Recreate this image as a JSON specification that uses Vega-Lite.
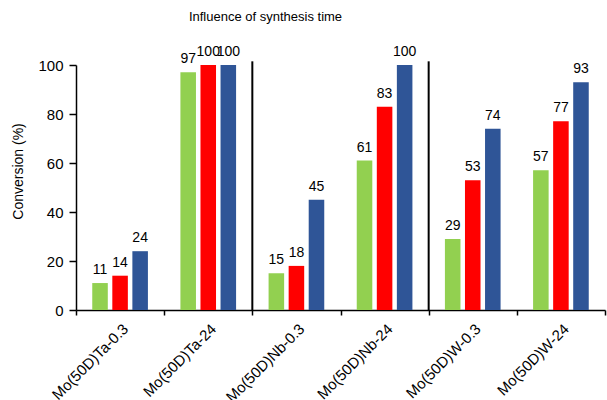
{
  "$schema": "https://vega.github.io/schema/vega-lite/v6.json",
  "width": 529,
  "height": 245,
  "autosize": {"type": "none"},
  "padding": {"left": 76, "top": 65, "right": 2, "bottom": 90},
  "title": {
    "text": "Influence of synthesis time",
    "fontSize": 13,
    "font": "Liberation Sans",
    "fontWeight": "normal",
    "frame": "group",
    "anchor": "middle",
    "dx": -75,
    "offset": 21,
    "color": "black"
  },
  "config": {
    "view": {"stroke": null},
    "font": "Liberation Sans",
    "axis": {
      "domainColor": "black",
      "domainWidth": 1.5,
      "tickColor": "black",
      "tickWidth": 1.5,
      "labelColor": "black",
      "titleColor": "black",
      "labelFont": "Liberation Sans",
      "titleFont": "Liberation Sans",
      "grid": false
    }
  },
  "datasets": {
    "bars": [
      {"cat": "Mo(50D)Ta-0.3", "series": "1", "value": 11},
      {"cat": "Mo(50D)Ta-0.3", "series": "2", "value": 14},
      {"cat": "Mo(50D)Ta-0.3", "series": "3", "value": 24},
      {"cat": "Mo(50D)Ta-24", "series": "1", "value": 97},
      {"cat": "Mo(50D)Ta-24", "series": "2", "value": 100},
      {"cat": "Mo(50D)Ta-24", "series": "3", "value": 100},
      {"cat": "Mo(50D)Nb-0.3", "series": "1", "value": 15},
      {"cat": "Mo(50D)Nb-0.3", "series": "2", "value": 18},
      {"cat": "Mo(50D)Nb-0.3", "series": "3", "value": 45},
      {"cat": "Mo(50D)Nb-24", "series": "1", "value": 61},
      {"cat": "Mo(50D)Nb-24", "series": "2", "value": 83},
      {"cat": "Mo(50D)Nb-24", "series": "3", "value": 100},
      {"cat": "Mo(50D)W-0.3", "series": "1", "value": 29},
      {"cat": "Mo(50D)W-0.3", "series": "2", "value": 53},
      {"cat": "Mo(50D)W-0.3", "series": "3", "value": 74},
      {"cat": "Mo(50D)W-24", "series": "1", "value": 57},
      {"cat": "Mo(50D)W-24", "series": "2", "value": 77},
      {"cat": "Mo(50D)W-24", "series": "3", "value": 93}
    ],
    "seps": [
      {"cat": "Mo(50D)Nb-0.3"},
      {"cat": "Mo(50D)W-0.3"}
    ]
  },
  "layer": [
    {
      "data": {"name": "bars"},
      "mark": {"type": "bar"},
      "encoding": {
        "x": {
          "field": "cat", "type": "nominal",
          "sort": ["Mo(50D)Ta-0.3", "Mo(50D)Ta-24", "Mo(50D)Nb-0.3", "Mo(50D)Nb-24", "Mo(50D)W-0.3", "Mo(50D)W-24"],
          "scale": {"paddingInner": 0, "paddingOuter": 0},
          "axis": {
            "title": null,
            "labelAngle": -45,
            "labelFontSize": 15,
            "tickBand": "extent",
            "tickSize": 5,
            "labelPadding": 6,
            "labelDx": -5,
            "labelDy": 2
          }
        },
        "xOffset": {
          "field": "series", "type": "nominal",
          "sort": ["1", "2", "3"],
          "scale": {"paddingInner": 0.225, "paddingOuter": 0.81}
        },
        "y": {
          "field": "value", "type": "quantitative",
          "scale": {"domain": [0, 100], "nice": false},
          "axis": {
            "title": "Conversion (%)",
            "values": [0, 20, 40, 60, 80, 100],
            "labelFontSize": 15,
            "titleFontSize": 14,
            "titleFontWeight": "normal",
            "tickSize": 7,
            "labelPadding": 6,
            "titlePadding": 12,
            "titleY": 106
          }
        },
        "color": {
          "field": "series", "type": "nominal",
          "scale": {"domain": ["1", "2", "3"], "range": ["#92D050", "#FF0000", "#2F5597"]},
          "legend": null
        }
      }
    },
    {
      "data": {"name": "bars"},
      "mark": {"type": "text", "baseline": "bottom", "align": "center", "dy": -6, "fontSize": 14, "font": "Liberation Sans", "color": "black"},
      "encoding": {
        "x": {
          "field": "cat", "type": "nominal",
          "sort": ["Mo(50D)Ta-0.3", "Mo(50D)Ta-24", "Mo(50D)Nb-0.3", "Mo(50D)Nb-24", "Mo(50D)W-0.3", "Mo(50D)W-24"]
        },
        "xOffset": {"field": "series", "type": "nominal", "sort": ["1", "2", "3"]},
        "y": {"field": "value", "type": "quantitative"},
        "text": {"field": "value", "type": "quantitative"}
      }
    },
    {
      "data": {"name": "seps"},
      "mark": {"type": "rule", "color": "black", "strokeWidth": 2},
      "encoding": {
        "x": {
          "field": "cat", "type": "nominal", "bandPosition": 0,
          "sort": ["Mo(50D)Ta-0.3", "Mo(50D)Ta-24", "Mo(50D)Nb-0.3", "Mo(50D)Nb-24", "Mo(50D)W-0.3", "Mo(50D)W-24"]
        },
        "y": {"datum": 0, "type": "quantitative"},
        "y2": {"datum": 101.5}
      }
    }
  ]
}
